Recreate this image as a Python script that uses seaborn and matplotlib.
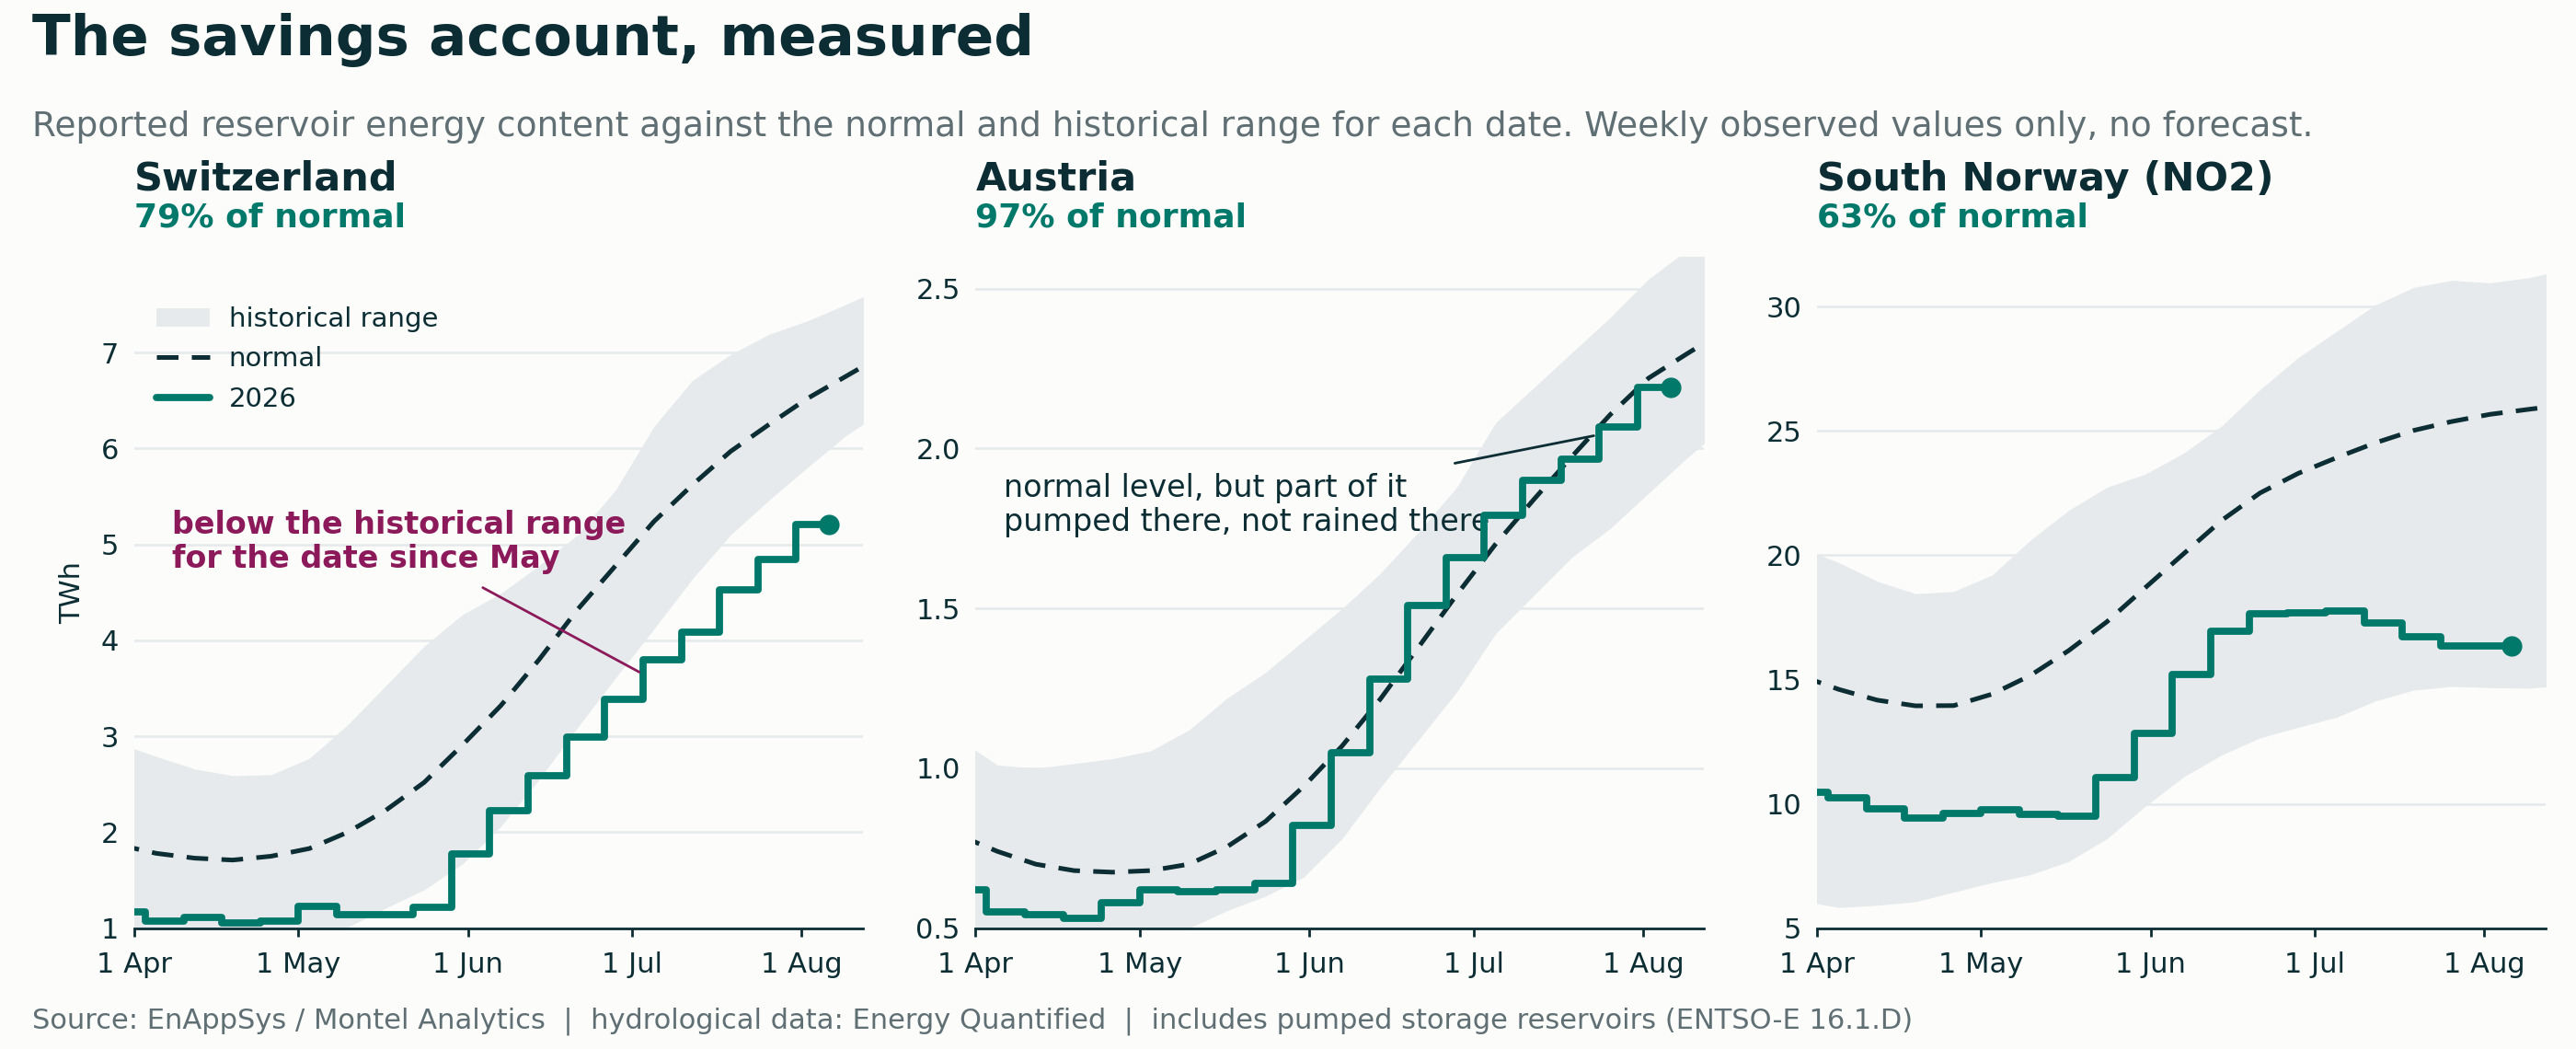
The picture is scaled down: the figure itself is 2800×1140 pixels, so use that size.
import numpy as np
import pandas as pd
import matplotlib
matplotlib.use("Agg")
import matplotlib.pyplot as plt
import matplotlib.dates as mdates
from matplotlib.ticker import FuncFormatter, FixedLocator
import seaborn as sns

# ---------------- data ----------------
countries = ["Switzerland", "Austria", "South Norway (NO2)"]
pct_labels = ["79% of normal", "97% of normal", "63% of normal"]

# weekly dates of the historical statistics (normal / range)
band_dates = pd.date_range("2026-03-29", periods=21, freq="7D")
# weekly observed dates (value = level of the week ending that date) + latest report
obs_dates = list(pd.date_range("2026-03-27", periods=19, freq="7D")) + [pd.Timestamp("2026-08-06")]

ch_normal = [1.87, 1.78, 1.73, 1.71, 1.75, 1.83, 2.00, 2.23, 2.52, 2.91, 3.32,
             3.80, 4.32, 4.78, 5.24, 5.62, 5.97, 6.25, 6.52, 6.75, 6.98]
ch_low = [0.75, 0.70, 0.68, 0.70, 0.76, 0.87, 1.01, 1.21, 1.40, 1.67, 2.06,
          2.55, 3.09, 3.61, 4.12, 4.64, 5.10, 5.46, 5.80, 6.13, 6.40]
ch_high = [2.93, 2.79, 2.66, 2.59, 2.60, 2.77, 3.12, 3.53, 3.94, 4.27, 4.49,
           4.78, 5.10, 5.57, 6.23, 6.71, 6.98, 7.19, 7.33, 7.50, 7.68]
ch_2026 = [1.20, 1.17, 1.07, 1.11, 1.05, 1.07, 1.23, 1.14, 1.14, 1.22, 1.77,
           2.22, 2.59, 2.99, 3.39, 3.80, 4.09, 4.53, 4.84, 5.21]

at_normal = [0.79, 0.74, 0.70, 0.68, 0.675, 0.68, 0.70, 0.755, 0.834, 0.944, 1.07,
             1.217, 1.38, 1.544, 1.70, 1.84, 1.975, 2.106, 2.22, 2.296, 2.37]
at_low = [0.42, 0.40, 0.39, 0.40, 0.42, 0.46, 0.50, 0.555, 0.60, 0.66, 0.78,
          0.94, 1.09, 1.24, 1.42, 1.54, 1.66, 1.75, 1.86, 1.97, 2.07]
at_high = [1.09, 1.01, 1.00, 1.015, 1.03, 1.055, 1.12, 1.22, 1.30, 1.40, 1.50,
           1.61, 1.74, 1.88, 2.08, 2.19, 2.30, 2.41, 2.53, 2.62, 2.68]
at_2026 = [0.62, 0.62, 0.55, 0.543, 0.53, 0.58, 0.62, 0.613, 0.62, 0.64, 0.82,
           1.05, 1.28, 1.51, 1.66, 1.79, 1.90, 1.967, 2.067, 2.19]

no_normal = [15.15, 14.60, 14.17, 13.94, 13.95, 14.41, 15.16, 16.16, 17.32, 18.69, 20.05,
             21.40, 22.50, 23.29, 23.92, 24.51, 25.01, 25.37, 25.66, 25.86, 26.05]
no_low = [6.10, 5.83, 5.92, 6.06, 6.45, 6.83, 7.15, 7.68, 8.60, 9.90, 11.08,
          11.97, 12.65, 13.08, 13.48, 14.13, 14.57, 14.72, 14.67, 14.65, 14.75]
no_high = [20.30, 19.70, 18.95, 18.45, 18.54, 19.20, 20.60, 21.80, 22.73, 23.26, 24.10,
           25.20, 26.66, 27.95, 29.00, 30.05, 30.76, 31.05, 30.95, 31.15, 31.50]
no_2026 = [10.60, 10.46, 10.23, 9.81, 9.44, 9.63, 9.76, 9.59, 9.49, 11.06, 12.82,
           15.20, 16.95, 17.63, 17.69, 17.75, 17.29, 16.71, 16.33, 16.35]

y_ticks = [[1, 2, 3, 4, 5, 6, 7], [0.5, 1.0, 1.5, 2.0, 2.5], [5, 10, 15, 20, 25, 30]]
y_limits = [(1, 8), (0.5, 2.6), (5, 32)]

title = "The savings account, measured"
subtitle = ("Reported reservoir energy content against the normal and historical range for each date. "
            "Weekly observed values only, no forecast.")
footer = ("Source: EnAppSys / Montel Analytics  |  hydrological data: Energy Quantified  |  "
          "includes pumped storage reservoirs (ENTSO-E 16.1.D)")

# ---------------- style ----------------
DARK = "#0b2d33"
TEAL = "#00796b"
BAND = "#e7eaec"
GRID = "#e5e9eb"
GRAY = "#5f6f73"
MAGENTA = "#8c1a5b"
BG = "#fcfcfb"

sns.set_theme(style="white")
plt.rcParams["font.family"] = ["DejaVu Sans"]

fig = plt.figure(figsize=(14, 5.7), dpi=200)
fig.patch.set_facecolor(BG)
axes = fig.subplots(1, 3)
fig.subplots_adjust(left=0.05214, right=0.98821, top=0.7553, bottom=0.1152, wspace=0.1547)

normals = [ch_normal, at_normal, no_normal]
lows = [ch_low, at_low, no_low]
highs = [ch_high, at_high, no_high]
obs = [ch_2026, at_2026, no_2026]

x0 = pd.Timestamp("2026-04-01")
x1 = x0 + pd.Timedelta(days=133.2)


def day(d):
    return x0 + pd.Timedelta(days=d)


for i, ax in enumerate(axes):
    ax.set_facecolor(BG)
    ax.fill_between(band_dates, lows[i], highs[i], color=BAND, lw=0, zorder=1,
                    label="historical range")
    sns.lineplot(x=band_dates, y=normals[i], ax=ax, color=DARK, lw=1.8,
                 linestyle=(0, (4.7, 2.9)), zorder=3, label="normal")
    sns.lineplot(x=obs_dates, y=obs[i], ax=ax, color=TEAL, lw=2.8,
                 drawstyle="steps-pre", solid_capstyle="round", zorder=4, label="2026")
    sns.scatterplot(x=[obs_dates[-1]], y=[obs[i][-1]], ax=ax, color=TEAL, s=64,
                    linewidth=0, zorder=5, legend=False)
    if ax.get_legend() is not None:
        ax.get_legend().remove()

    ax.set_xlim(x0, x1)
    ax.set_ylim(*y_limits[i])
    ax.yaxis.set_major_locator(FixedLocator(y_ticks[i]))
    if i == 1:
        ax.yaxis.set_major_formatter(FuncFormatter(lambda v, p: f"{v:.1f}"))
    else:
        ax.yaxis.set_major_formatter(FuncFormatter(lambda v, p: f"{v:g}"))
    ax.xaxis.set_major_locator(mdates.MonthLocator())
    ax.xaxis.set_major_formatter(
        FuncFormatter(lambda v, p: (lambda d: f"{d.day} {d.strftime('%b')}")(mdates.num2date(v))))

    ax.set_axisbelow(True)
    ax.yaxis.grid(True, color=GRID, lw=0.9)
    ax.xaxis.grid(False)
    for s in ["left", "top", "right"]:
        ax.spines[s].set_visible(False)
    ax.spines["bottom"].set_color(DARK)
    ax.spines["bottom"].set_linewidth(1.0)
    ax.tick_params(axis="x", length=3.2, width=1.0, color=DARK, labelsize=11,
                   labelcolor=DARK, pad=6, bottom=True)
    ax.tick_params(axis="y", length=0, labelsize=11, labelcolor=DARK, pad=6)
    ax.set_xlabel("")
    ax.set_ylabel("")

    ax.text(0, 1.144, countries[i], transform=ax.transAxes, fontsize=15.5,
            fontweight="bold", color=DARK, va="top", ha="left")
    ax.text(0, 1.082, pct_labels[i], transform=ax.transAxes, fontsize=13,
            fontweight="bold", color=TEAL, va="top", ha="left")

# Switzerland extras
ax = axes[0]
ax.set_ylabel("TWh", fontsize=11, color=DARK, labelpad=6)
h, l = ax.get_legend_handles_labels()
order = ["historical range", "normal", "2026"]
hh = [h[l.index(o)] for o in order]
ax.legend(hh, order, loc="upper left", bbox_to_anchor=(0.03, 0.926), frameon=False,
          fontsize=10.5, handlelength=2.0, handletextpad=0.7, labelspacing=0.53,
          borderpad=0, borderaxespad=0, labelcolor=DARK)
ax.text(day(6.9), 5.36, "below the historical range\nfor the date since May",
        fontsize=12, fontweight="bold", color=MAGENTA, va="top", ha="left",
        linespacing=1.15, zorder=6)
ax.annotate("", xy=(day(92.3), 3.67), xytext=(day(63.7), 4.55),
            arrowprops=dict(arrowstyle="-", color=MAGENTA, lw=1.0, shrinkA=0, shrinkB=0),
            zorder=6)

# Austria extras
ax = axes[1]
ax.text(day(5.1), 1.923, "normal level, but part of it\npumped there, not rained there",
        fontsize=12, color=DARK, va="top", ha="left", linespacing=1.15, zorder=2.5)
ax.annotate("", xy=(day(113), 2.04), xytext=(day(87.6), 1.954),
            arrowprops=dict(arrowstyle="-", color=DARK, lw=1.0, shrinkA=0, shrinkB=0),
            zorder=6)

fig.text(0.0125, 0.988, title, fontsize=22, fontweight="bold", color=DARK, va="top", ha="left")
fig.text(0.0125, 0.895, subtitle, fontsize=13.5, color=GRAY, va="top", ha="left")
fig.text(0.0125, 0.020, footer, fontsize=11, color=GRAY, va="baseline", ha="left")

fig.savefig("out.png", dpi=200, facecolor=BG)
